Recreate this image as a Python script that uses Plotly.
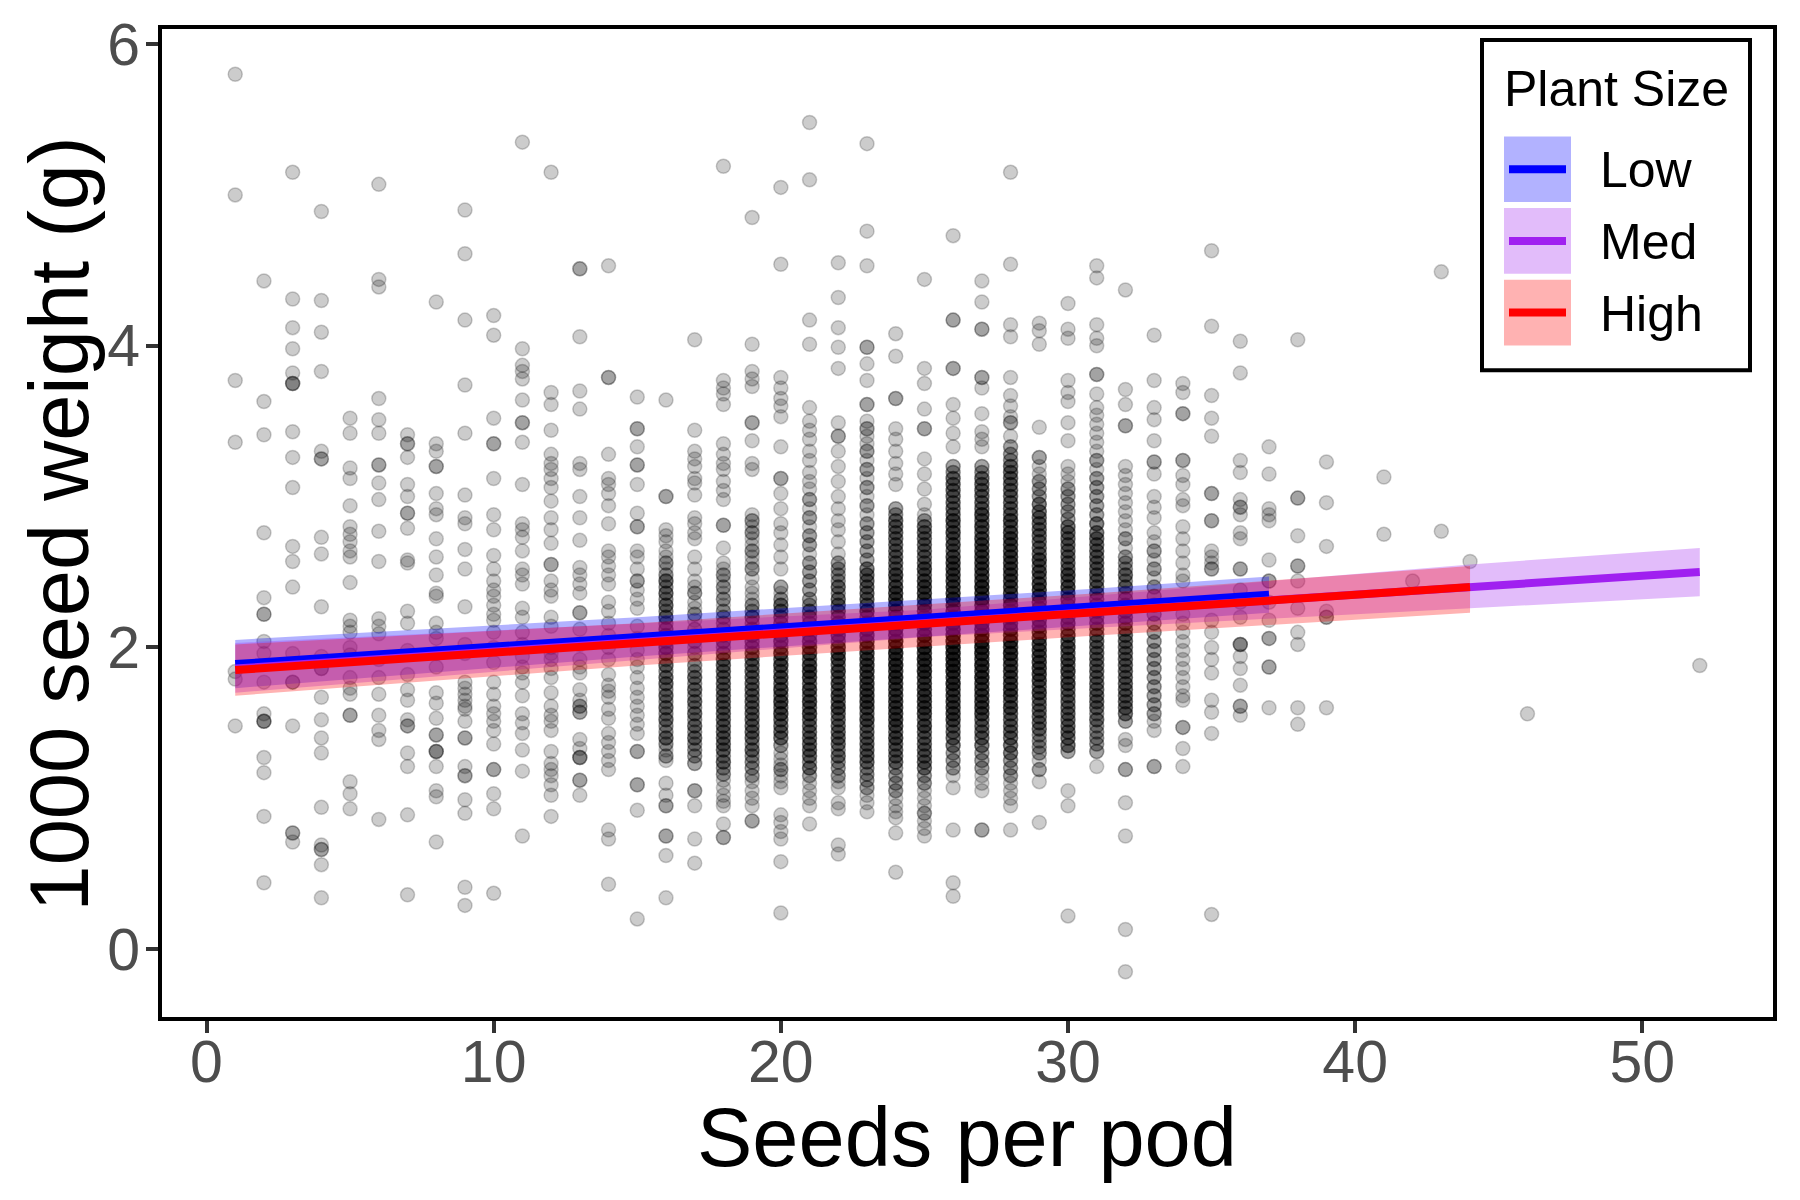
import plotly.graph_objects as go

# 1000 seed weight (g), one string per "seeds per pod" column.
# "v*n" means n points sitting on top of each other at v.
weights_by_seeds = {
    1: "5.80 5.00 3.77 3.36 1.84 1.79 1.48",
    2: "4.43 3.63 3.41 2.76 2.33 2.22*2 2.04 1.96 1.77 1.56 1.51*3 1.27 1.17 0.88 0.44",
    3: "5.15 4.31 4.12 3.98 3.82 3.75*3 3.43 3.26 3.06 2.67 2.57 2.40 1.96 1.77*2 1.48 0.77*2 0.71",
    4: "4.89 4.30 4.09 3.83 3.30 3.25*2 2.73 2.62 2.27 1.94 1.86*2 1.67 1.52 1.40 1.30 0.94 0.69 0.66*2 0.56 0.34",
    5: "3.52 3.42 3.19 3.12 2.94 2.80 2.75 2.70 2.64 2.60 2.43 2.18 2.14 2.10 2.00 1.95 1.80 1.73 1.69 1.55*2 1.11 1.03 0.93",
    6: "5.07 4.44 4.39 3.65 3.51 3.42 3.21*2 3.09 2.98 2.77 2.57 2.19 2.14 2.09 1.92 1.80 1.69 1.55 1.45 1.39 0.86",
    7: "3.41 3.35*2 3.26 3.08 3.00 2.89*2 2.79 2.58 2.56 2.24 2.16 1.98 1.82 1.72 1.65 1.52 1.48*2 1.30 1.21 0.89 0.36",
    8: "4.29 3.35 3.30 3.20*2 3.02 2.92 2.88 2.72 2.60 2.48 2.36 2.34 2.16 2.10 2.06 1.96 1.87 1.70 1.63 1.53 1.42*2 1.31*3 1.21 1.05 1.01 0.71",
    9: "4.90 4.61 4.17 3.74 3.42 3.01 2.86 2.82 2.65 2.52 2.27 2.02 1.96 1.77 1.73 1.69 1.65 1.61 1.59 1.51 1.40*2 1.21 1.15*2 0.99 0.90 0.41 0.29",
    10: "4.20 4.07 3.52 3.35*2 3.12 2.88 2.78 2.61 2.52 2.44 2.38 2.34 2.28 2.22 2.18 2.10 2.00 1.90 1.77 1.69 1.61 1.56 1.51 1.45 1.36 1.19*2 1.03 0.93 0.37",
    11: "5.35 3.98 3.87 3.83 3.78 3.64 3.49*2 3.36 3.08 2.82 2.78 2.73 2.64 2.52 2.48 2.42 2.26 2.20 2.10 2.02 1.94 1.87 1.83 1.77 1.68 1.56 1.50 1.43 1.32 1.18 0.75",
    12: "5.15 3.69 3.61 3.44 3.28 3.22 3.18 3.12 3.06 2.97 2.86 2.78 2.69 2.55*2 2.44 2.38 2.34 2.20 2.14 2.00 1.96 1.92 1.86 1.80 1.70 1.61 1.55 1.51 1.45 1.31 1.23 1.19 1.15 1.09 1.02 0.88",
    13: "4.51*2 4.06 3.70 3.58 3.22 3.18 3.00 2.86 2.71 2.53 2.48 2.42 2.36 2.23*2 2.12 2.02 1.92 1.87 1.83 1.72 1.65 1.61*2 1.57*2 1.39 1.33 1.27*3 1.12*2 1.02",
    14: "4.53 3.79*2 3.28 3.12 3.08 3.02 2.94 2.82 2.64 2.60 2.54 2.48 2.42 2.30 2.24 2.16 2.08 2.00 1.92 1.82 1.75 1.71 1.67 1.59 1.53 1.43 1.37 1.31 1.25 1.19 0.79 0.73 0.43",
    15: "3.66 3.45*2 3.33 3.21*2 3.08 2.89 2.80*2 2.64 2.60 2.52 2.44*2 2.38 2.32 2.26 2.14 2.06 1.98 1.92 1.87 1.80 1.73 1.67 1.61 1.55 1.49 1.43 1.31*2 1.09*2 0.92 0.20",
    16: "3.64 3.00*2 2.78 2.74 2.70 2.64 2.60 2.56*2 2.52 2.48*2 2.44*3 2.40*2 2.36*3 2.32*2 2.28*3 2.24*2 2.20*3 2.16*2 "
        "2.12*3 2.08*3 2.04*2 2.00*3 1.96*3 1.92*2 1.88*3 1.84*2 1.80*3 1.76*3 1.72*2 1.68*3 1.64*2 1.60*3 1.56*2 "
        "1.52*3 1.48*2 1.44*2 1.40*3 1.36*2 1.32 1.28*2 1.25 1.10 1.02 0.95*2 0.75*2 0.62 0.34",
    17: "4.04 3.44 3.30 3.25 3.20 3.12 3.09 3.01 2.86 2.82 2.76 2.72 2.60 2.52 2.44 2.40 2.36*2 2.30 2.26 2.22*2 2.18 "
        "2.12*2 2.08 2.04*2 2.00 1.96*2 1.92 1.88*2 1.84*2 1.80*3 1.76*2 1.72*3 1.68*2 1.64*3 1.60*2 1.56*3 1.52*2 "
        "1.48*3 1.44*2 1.40*3 1.36*2 1.32*2 1.28*2 1.23*2 1.05*2 0.95 0.73 0.57",
    18: "5.19 3.77 3.72 3.68 3.61 3.35 3.28 3.22 3.18 3.10 3.04 2.98 2.81*2 2.66 2.56 2.52 2.48*2 2.44 2.40*2 2.36 "
        "2.32*2 2.28 2.24*2 2.20*2 2.16*2 2.12*2 2.08*2 2.04*3 2.00*2 1.96*3 1.92*3 1.88*3 1.84*3 1.80*3 1.76*3 "
        "1.72*3 1.68*3 1.64*3 1.60*3 1.56*3 1.52*3 1.48*3 1.44*3 1.40*3 1.36*3 1.32*3 1.28*2 1.24*3 1.20*2 1.16*2 "
        "1.12 1.07 1.02 0.98 0.95 0.83 0.74*2",
    19: "4.85 4.01 3.83 3.78 3.73 3.49*2 3.37 3.22 3.18 2.88 2.84*2 2.80 2.76*2 2.72 2.68 2.64*2 2.60 2.56 2.52*2 "
        "2.46 2.40 2.36 2.32 2.28*2 2.24*2 2.20*3 2.16*2 2.12*3 2.08*3 2.04*3 2.00*3 1.96*3 1.92*3 1.88*3 1.84*3 "
        "1.80*3 1.76*3 1.72*3 1.68*3 1.64*3 1.60*3 1.56*3 1.52*3 1.48*3 1.44*3 1.40*3 1.36*2 1.32*3 1.28*2 1.24*2 "
        "1.20*2 1.15*2 1.11 1.05 1.00 0.95 0.85*2",
    20: "5.05 4.54 3.79 3.72 3.65 3.60 3.53 3.33 3.12*2 3.02 2.92 2.82 2.76 2.68 2.60 2.52 2.40*2 2.36 2.32*2 2.28*3 "
        "2.24*3 2.20*3 2.16*3 2.12*4 2.08*3 2.04*4 2.00*3 1.96*4 1.92*3 1.88*4 1.84*3 1.80*4 1.76*3 1.72*4 1.68*3 "
        "1.64*4 1.60*3 1.56*4 1.52*3 1.48*3 1.44*3 1.40*3 1.35*2 1.30 1.26 1.22 1.19*2 1.15 1.11 1.07 0.89 0.84 "
        "0.78 0.73 0.58 0.24",
    21: "5.48 5.10 4.17 4.01 3.59 3.50 3.44 3.38 3.30 3.24 3.16 3.10 3.05 2.98*2 2.92 2.86*2 2.80 2.74*2 2.68*2 2.62 "
        "2.56*2 2.50*2 2.44*2 2.38*2 2.32*2 2.28*2 2.24*3 2.20*3 2.16*3 2.12*4 2.08*3 2.04*4 2.00*4 1.96*4 1.92*3 "
        "1.88*4 1.84*4 1.80*4 1.76*3 1.72*4 1.68*3 1.64*4 1.60*3 1.56*4 1.52*3 1.48*3 1.44*3 1.40*3 1.36*3 1.32*3 "
        "1.28*3 1.24*2 1.20*3 1.15*2 1.10 1.05 1.00 0.95 0.83",
    22: "4.55 4.32 4.12 3.99 3.85 3.49 3.40*2 3.30 3.20 3.10 3.00 2.92 2.84 2.78 2.70 2.62 2.56*2 2.52*2 2.48*2 2.44*2 "
        "2.40*3 2.36*2 2.32*3 2.28*3 2.24*3 2.20*3 2.16*4 2.12*3 2.08*4 2.04*3 2.00*4 1.96*4 1.92*4 1.88*3 1.84*4 "
        "1.80*3 1.76*4 1.72*3 1.68*4 1.64*3 1.60*4 1.56*3 1.52*3 1.48*3 1.44*3 1.40*3 1.36*3 1.32*2 1.28*3 1.24*2 "
        "1.20*2 1.15*2 1.11 1.07 0.97 0.93 0.69 0.63",
    23: "5.34 4.76 4.53 3.99*2 3.88 3.77 3.61*2 3.50 3.45*2 3.40 3.35 3.30*2 3.24 3.18*2 3.12 3.06*2 3.00 2.94*2 2.88 "
        "2.82*2 2.76*2 2.70*2 2.64*2 2.58*2 2.52*3 2.48*3 2.44*3 2.40*3 2.36*3 2.32*3 2.28*3 2.24*4 2.20*3 2.16*4 "
        "2.12*4 2.08*4 2.04*4 2.00*4 1.96*4 1.92*4 1.88*4 1.84*4 1.80*4 1.76*4 1.72*4 1.68*4 1.64*4 1.60*4 1.56*3 "
        "1.52*4 1.48*3 1.44*3 1.40*3 1.36*3 1.32*3 1.28*3 1.24*3 1.20*2 1.16*2 1.12*2 1.07*2 1.02 0.97 0.91",
    24: "4.08 3.93 3.65*2 3.45 3.38 3.30 3.22 3.15 3.08 2.92*2 2.88*2 2.84*3 2.80*3 2.76*3 2.72*3 2.68*3 2.64*3 "
        "2.60*3 2.56*3 2.52*3 2.48*4 2.44*3 2.40*4 2.36*4 2.32*4 2.28*4 2.24*4 2.20*4 2.16*4 2.12*5 2.08*4 2.04*5 "
        "2.00*4 1.96*5 1.92*4 1.88*5 1.84*4 1.80*5 1.76*4 1.72*4 1.68*4 1.64*4 1.60*4 1.56*4 1.52*4 1.48*4 1.44*3 "
        "1.40*4 1.36*3 1.32*3 1.28*3 1.24*3 1.20*2 1.15*2 1.10*2 1.05*2 1.00 0.95 0.91 0.87 0.77 0.51",
    25: "4.44 3.85 3.75 3.58 3.45*2 3.25 3.15 3.05 2.95 2.88 2.84*2 2.80*3 2.76*3 2.72*3 2.68*3 2.64*3 2.60*3 2.56*3 "
        "2.52*4 2.48*3 2.44*4 2.40*4 2.36*4 2.32*4 2.28*4 2.24*4 2.20*4 2.16*5 2.12*4 2.08*5 2.04*4 2.00*5 1.96*4 "
        "1.92*5 1.88*4 1.84*5 1.80*4 1.76*4 1.72*4 1.68*4 1.64*4 1.60*4 1.56*4 1.52*3 1.48*4 1.44*3 1.40*3 1.36*3 "
        "1.32*3 1.28*3 1.24*3 1.20*3 1.15*2 1.10*2 1.05 1.00 0.95 0.90*2 0.85 0.80 0.75",
    26: "4.73 4.17*2 3.85*2 3.61 3.52 3.42 3.33 3.20*2 3.16*2 3.12*3 3.08*3 3.04*3 3.00*3 2.96*3 2.92*3 2.88*3 "
        "2.84*4 2.80*3 2.76*4 2.72*3 2.68*4 2.64*3 2.60*4 2.56*4 2.52*4 2.48*4 2.44*4 2.40*4 2.36*4 2.32*5 2.28*4 "
        "2.24*5 2.20*4 2.16*5 2.12*5 2.08*5 2.04*5 2.00*5 1.96*5 1.92*5 1.88*5 1.84*5 1.80*4 1.76*5 1.72*4 1.68*4 "
        "1.64*4 1.60*4 1.56*4 1.52*4 1.48*3 1.44*3 1.40*3 1.35*3 1.30*2 1.25*2 1.20*2 1.15 1.07 0.79 0.44 0.35",
    27: "4.43 4.29 4.11*2 3.79*2 3.72 3.55 3.43 3.38 3.33 3.20*2 3.16*2 3.12*3 3.08*3 3.04*3 3.00*3 2.96*3 2.92*3 "
        "2.88*4 2.84*3 2.80*4 2.76*3 2.72*4 2.68*4 2.64*4 2.60*4 2.56*4 2.52*4 2.48*4 2.44*4 2.40*5 2.36*4 2.32*5 "
        "2.28*4 2.24*5 2.20*5 2.16*5 2.12*5 2.08*5 2.04*5 2.00*5 1.96*5 1.92*4 1.88*5 1.84*4 1.80*5 1.76*4 1.72*4 "
        "1.68*4 1.64*4 1.60*4 1.56*4 1.52*3 1.48*3 1.44*3 1.40*3 1.35*3 1.30*2 1.25*2 1.20*2 1.15 1.10 1.05 0.79*2",
    28: "5.15 4.54 4.14 4.06 3.79 3.67 3.60 3.53 3.49*2 3.40 3.33*2 3.28*2 3.24*2 3.20*3 3.16*3 3.12*3 3.08*3 "
        "3.04*3 3.00*3 2.96*3 2.92*3 2.88*3 2.84*4 2.80*3 2.76*4 2.72*4 2.68*4 2.64*4 2.60*4 2.56*4 2.52*4 2.48*4 "
        "2.44*4 2.40*4 2.36*4 2.32*4 2.28*5 2.24*4 2.20*5 2.16*4 2.12*5 2.08*4 2.04*5 2.00*4 1.96*5 1.92*4 1.88*4 "
        "1.84*4 1.80*4 1.76*4 1.72*4 1.68*4 1.64*3 1.60*4 1.56*3 1.52*3 1.48*3 1.44*3 1.40*3 1.35*3 1.30*3 1.25*2 "
        "1.20*2 1.15*2 1.10 1.05 1.00 0.95 0.79",
    29: "4.15 4.10 4.01 3.46 3.26*2 3.20 3.15 3.10*2 3.05*2 3.00*2 2.95*3 2.90*3 2.86*3 2.82*3 2.78*3 2.74*3 2.70*3 "
        "2.66*3 2.62*3 2.58*4 2.54*3 2.50*4 2.46*3 2.42*4 2.38*4 2.34*4 2.30*4 2.26*4 2.22*4 2.18*4 2.14*4 2.10*4 "
        "2.06*4 2.02*4 1.98*4 1.94*4 1.90*4 1.86*4 1.82*4 1.78*4 1.74*3 1.70*4 1.66*3 1.62*3 1.58*3 1.54*3 1.50*3 "
        "1.46*3 1.42*2 1.38*2 1.34*2 1.30*2 1.25 1.19*2 1.11 0.84",
    30: "4.28 4.11 4.05 3.77 3.69 3.63 3.49 3.37 3.20 3.15 3.10 3.05*2 3.00*2 2.95*2 2.90*2 2.85*2 2.80*3 2.76*3 "
        "2.72*3 2.68*3 2.64*3 2.60*3 2.56*3 2.52*3 2.48*4 2.44*3 2.40*4 2.36*3 2.32*4 2.28*3 2.24*4 2.20*3 2.16*4 "
        "2.12*3 2.08*4 2.04*3 2.00*4 1.96*3 1.92*4 1.88*3 1.84*4 1.80*3 1.76*4 1.72*3 1.68*3 1.64*3 1.60*3 1.56*3 "
        "1.52*3 1.48*3 1.44*3 1.40*3 1.35*3 1.31*2 1.05 0.95 0.22",
    31: "4.53 4.45 4.14 4.05 4.00 3.81*2 3.68 3.59 3.54 3.48 3.42 3.36 3.30 3.24*2 3.18 3.12*2 3.06*2 3.00*2 2.94*2 "
        "2.88*2 2.82*3 2.76*3 2.72*3 2.68*3 2.64*3 2.60*3 2.56*3 2.52*3 2.48*3 2.44*3 2.40*3 2.36*3 2.32*3 2.28*3 "
        "2.24*3 2.20*3 2.16*3 2.12*3 2.08*3 2.04*3 2.00*3 1.96*3 1.92*3 1.88*3 1.84*3 1.80*3 1.76*3 1.72*3 1.68*3 "
        "1.64*3 1.60*3 1.56*2 1.52*3 1.48*2 1.44*2 1.40*2 1.36*2 1.31*2 1.21",
    32: "4.37 3.71 3.61 3.47*2 3.20 3.14 3.08 3.02 2.96 2.90 2.84 2.78 2.72*2 2.66 2.60*2 2.56*2 2.52*2 2.48*3 "
        "2.44*2 2.40*3 2.36*2 2.32*3 2.28*3 2.24*3 2.20*3 2.16*3 2.12*3 2.08*3 2.04*3 2.00*3 1.96*3 1.92*3 1.88*3 "
        "1.84*3 1.80*3 1.76*3 1.72*3 1.68*3 1.64*3 1.60*3 1.56*3 1.51*2 1.39 1.35 1.19*2 0.97 0.75 0.13 -0.15",
    33: "4.07 3.77 3.59 3.51 3.37 3.23*2 3.15 3.00 2.93 2.86 2.76 2.70 2.64*2 2.58 2.52*2 2.46 2.40*2 2.34*2 2.28*2 "
        "2.22*2 2.16*2 2.10*2 2.04*2 1.98*2 1.92*2 1.86*2 1.80*2 1.74*2 1.68*2 1.62*2 1.56*2 1.51 1.45 1.21*2",
    34: "3.75 3.69 3.55*2 3.24*2 3.14 3.08 2.98 2.94 2.80 2.72 2.64 2.56 2.48 2.44 2.22 2.16 2.10 2.04 1.98 1.92 "
        "1.86 1.80 1.74 1.68 1.65 1.47*2 1.33 1.21",
    35: "4.63 4.13 3.67 3.52 3.40 3.02*2 2.84*2 2.64 2.60 2.56 2.52*2 2.18 2.10 2.00 1.92 1.83 1.65 1.57 1.43 0.23",
    36: "4.03 3.82 3.24 3.16 2.98 2.93*2 2.88 2.76 2.72 2.52*2 2.38 2.30 2.20 2.02*3 1.94 1.86 1.75 1.61*2 1.55",
    37: "3.33 3.15 2.92 2.88 2.84 2.58 2.44*2 2.30 2.18 2.06*2 1.87*2 1.60",
    38: "4.04 2.99*2 2.74 2.54*2 2.44 2.26 2.10 2.02 1.60 1.49",
    39: "3.23 2.96 2.67 2.24 2.20*2 1.60",
    41: "3.13 2.75",
    42: "2.44",
    43: "4.49 2.77",
    44: "2.57",
    46: "1.56",
    52: "1.88",
}

# lm fits per plant size class (line ends and ribbon edges)
groups = ["Low", "Med", "High"]
line_colors = ["#0000FF", "#A020F0", "#FF0000"]
band_colors = ["rgba(0,0,255,0.3)", "rgba(160,32,240,0.3)", "rgba(255,0,0,0.3)"]

fit_x = {"Low": [1, 37], "Med": [1, 52], "High": [1, 44]}
fit_y = {"Low": [1.89, 2.35], "Med": [1.86, 2.50], "High": [1.85, 2.40]}
band_x = {"Low": [1, 15, 31, 37], "Med": [1, 25, 44, 52], "High": [1, 15, 31, 44]}
band_lo = {"Low": [1.73, 1.94, 2.15, 2.23], "Med": [1.70, 2.07, 2.26, 2.34], "High": [1.68, 1.88, 2.08, 2.23]}
band_hi = {"Low": [2.05, 2.20, 2.39, 2.47], "Med": [2.03, 2.25, 2.55, 2.66], "High": [2.02, 2.16, 2.36, 2.54]}

x_ticks = [0, 10, 20, 30, 40, 50]
y_ticks = [0, 2, 4, 6]


def expand(s):
    vals = []
    for tok in s.split():
        if '*' in tok:
            v, n = tok.split('*')
            vals += [float(v)] * int(n)
        else:
            vals.append(float(tok))
    return vals


xs, ys = [], []
for k, s in weights_by_seeds.items():
    v = expand(s)
    xs += [k] * len(v)
    ys += v

# page geometry (pixels) -> paper coords for the hand-drawn legend and titles
W, H = 1800, 1200
L, R, T, B = 162, 27, 24, 183


def px(xp):
    return (xp - L) / (W - L - R)


def py(yp):
    return (H - B - yp) / (H - T - B)


FONT = "Liberation Sans, Arial, sans-serif"

fig = go.Figure()

fig.add_trace(go.Scatter(x=xs, y=ys, mode='markers', showlegend=False, hoverinfo='skip',
                         marker=dict(size=14, color='rgba(0,0,0,0.2)',
                                     line=dict(width=1.5, color='rgba(0,0,0,0.2)'))))

# ribbons first, then the fitted lines on top
for g, bc in zip(groups, band_colors):
    fig.add_trace(go.Scatter(x=band_x[g], y=band_lo[g], mode='lines', line=dict(width=0),
                             showlegend=False, hoverinfo='skip'))
    fig.add_trace(go.Scatter(x=band_x[g], y=band_hi[g], mode='lines', line=dict(width=0),
                             fill='tonexty', fillcolor=bc, showlegend=False, hoverinfo='skip'))
for g, lc in zip(groups, line_colors):
    fig.add_trace(go.Scatter(x=fit_x[g], y=fit_y[g], mode='lines', name=g,
                             line=dict(color=lc, width=8), showlegend=False))

axis_common = dict(showgrid=False, zeroline=False, showline=True, linecolor='black', linewidth=4,
                   mirror=True, ticks='outside', ticklen=12, tickwidth=4, tickcolor='#333333',
                   tickfont=dict(family=FONT, size=59, color='#4D4D4D'))

fig.update_xaxes(range=[-1.55, 54.55], tickvals=x_ticks, ticklabelstandoff=-22, **axis_common)
fig.update_yaxes(range=[-0.45, 6.1], tickvals=y_ticks, ticklabelstandoff=-6, **axis_common)

shapes = [dict(type='rect', xref='paper', yref='paper', x0=px(1482), x1=px(1750), y0=py(367), y1=py(35),
               line=dict(color='black', width=4), fillcolor='white', layer='above')]
annotations = [
    dict(text="Seeds per pod", xref='paper', yref='paper', x=px(967), y=py(1138), showarrow=False,
         xanchor='center', yanchor='middle', font=dict(family=FONT, size=83, color='black')),
    dict(text="1000 seed weight (g)", xref='paper', yref='paper', x=px(59), y=py(522), showarrow=False,
         textangle=-90, xanchor='center', yanchor='middle', font=dict(family=FONT, size=83, color='black')),
    dict(text="Plant Size", xref='paper', yref='paper', x=px(1502), y=py(84), showarrow=False,
         xanchor='left', yanchor='middle', font=dict(family=FONT, size=50, color='black')),
]
for i, (g, lc, bc) in enumerate(zip(groups, line_colors, band_colors)):
    top = 132 + i * 72
    shapes.append(dict(type='rect', xref='paper', yref='paper', x0=px(1504), x1=px(1571),
                       y0=py(top + 66), y1=py(top), line=dict(width=0), fillcolor=bc, layer='above'))
    shapes.append(dict(type='line', xref='paper', yref='paper', x0=px(1509), x1=px(1566),
                       y0=py(top + 33), y1=py(top + 33), line=dict(color=lc, width=8), layer='above'))
    annotations.append(dict(text=g, xref='paper', yref='paper', x=px(1598), y=py(top + 34), showarrow=False,
                            xanchor='left', yanchor='middle', font=dict(family=FONT, size=50, color='black')))

fig.update_layout(width=W, height=H, autosize=False,
                  margin=dict(l=L, r=R, t=T, b=B, pad=0),
                  paper_bgcolor='white', plot_bgcolor='white',
                  shapes=shapes, annotations=annotations, showlegend=False)

fig.write_html("out.html", config={'displayModeBar': False},
               post_script="document.body.style.margin='0px';")
